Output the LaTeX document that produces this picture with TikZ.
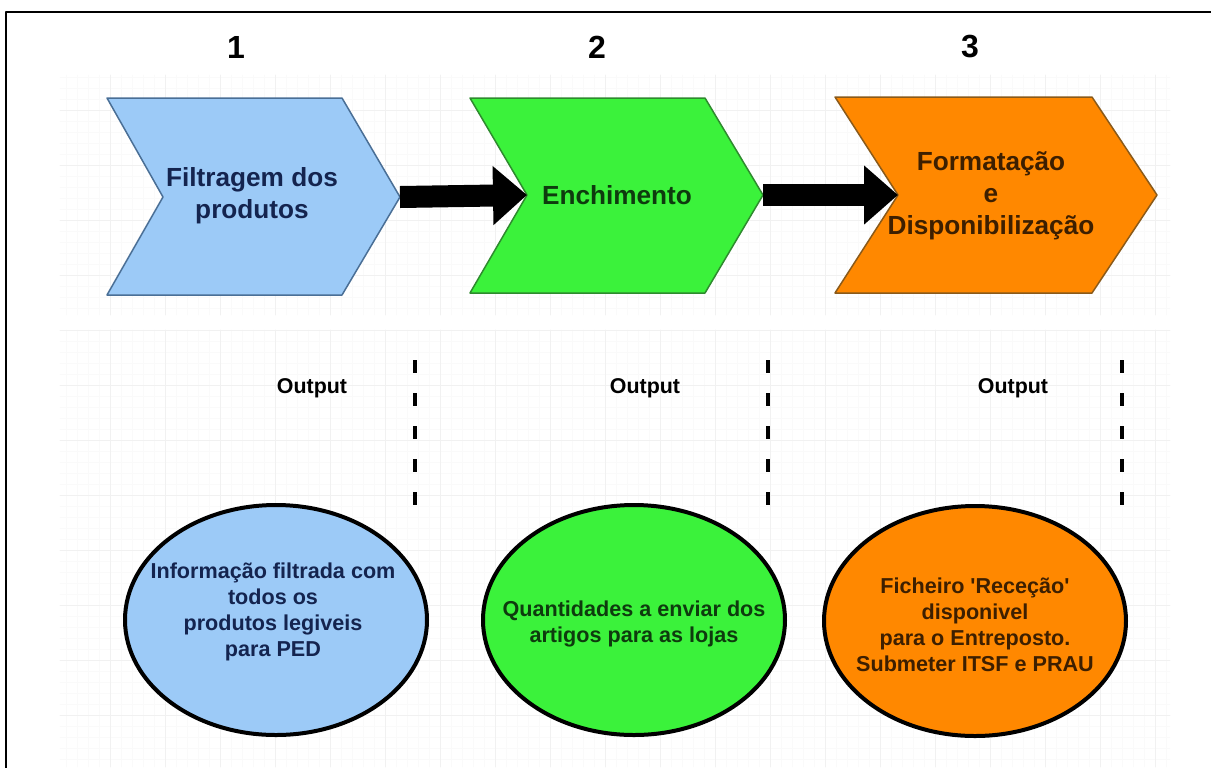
\documentclass[tikz,border=0pt]{standalone}
\usepackage{fontspec}
\setmainfont{Liberation Sans}
\usetikzlibrary{shapes.geometric,arrows.meta}
\definecolor{blueA}{HTML}{9CCAF7}
\definecolor{greenB}{HTML}{3BF23B}
\definecolor{orangeC}{HTML}{FF8800}
\definecolor{blueLine}{HTML}{4A6F96}
\definecolor{greenLine}{HTML}{2E8B2E}
\definecolor{orangeLine}{HTML}{8A5A1A}
\definecolor{blueInk}{HTML}{14244F}
\definecolor{greenInk}{HTML}{0E3B0E}
\definecolor{orangeInk}{HTML}{3D1F00}
\begin{document}
\begin{tikzpicture}[x=0.5pt, y=-0.5pt, line cap=round, line join=round, font=\bfseries]
	\tikzset{numlabel/.style={font=\fontsize{16}{18}\selectfont\bfseries},
		chevtext/.style={align=center, inner sep=0pt, font=\fontsize{13.1}{16}\selectfont\bfseries},
		chevron/.style={line width=0.75pt},
		outlabel/.style={inner sep=0pt, font=\fontsize{10.7}{13}\selectfont\bfseries},
		outblob/.style={ellipse, draw=black, line width=2pt, minimum width=151pt, minimum height=115pt, inner sep=0pt},
		outtext/.style={align=center, inner sep=0pt, font=\fontsize{10.8}{13}\selectfont\bfseries},
		bigarrow/.style={line width=11pt, line cap=butt, -{Triangle[length=17pt, width=28.5pt]}},
		divider/.style={line width=2pt, line cap=butt, dash pattern=on 6.5pt off 10pt}}
	\useasboundingbox (0,0) rectangle (1211,767);
	% faint grid behind the two rows
	\draw[gray!4, line width=0.3pt, step=5.5pt] (60,315) grid (1170,75) (60,767) grid (1170,330);
	\draw[gray!11, line width=0.4pt, step=27.5pt] (60,315) grid (1170,75) (60,767) grid (1170,330);
	\draw[line width=1pt] (6,780) |- (1220,12);
	% steps
	\node[numlabel] (numA) at (236,47) {1};
	\node[numlabel] (numB) at (597,47) {2};
	\node[numlabel] (numC) at (970,47) {3};
	\draw[chevron, fill=blueA, draw=blueLine] (107,98)--(342,98)--(400,197) coordinate (tipA)--(342,295)--(107,295)--(163,197) coordinate (notchA)--cycle;
	\draw[chevron, fill=greenB, draw=greenLine] (470,98)--(705,98)--(763,195) coordinate (tipB)--(705,293)--(470,293)--(527,195) coordinate (notchB)--cycle;
	\draw[chevron, fill=orangeC, draw=orangeLine] (835,97)--(1092,97)--(1157,195) coordinate (tipC)--(1092,293)--(835,293)--(898,195) coordinate (notchC)--cycle;
	\node[chevtext, text=blueInk] (stepA) at (252,196) {Filtragem dos\\produtos};
	\node[chevtext, text=greenInk] (stepB) at (617,195) {Enchimento};
	\node[chevtext, text=orangeInk] (stepC) at (991,196) {Formatação\\e\\Disponibilização};
	\draw[bigarrow] (tipA)--(notchB);
	\draw[bigarrow] (tipB)--(notchC);
	% outputs
	\node[outlabel] (outlabelA) at (312,388) {Output};
	\node[outlabel] (outlabelB) at (645,388) {Output};
	\node[outlabel] (outlabelC) at (1013,388) {Output};
	\draw[divider] (415,360)--(415,506) (768,360)--(768,506) (1122,360)--(1122,506);
	\node[outblob, fill=blueA] (outA) at (276,620) {};
	\node[outblob, fill=greenB] (outB) at (634,620) {};
	\node[outblob, fill=orangeC] (outC) at (975,621) {};
	\node[outtext, text=blueInk] (outtextA) at (273,612) {Informação filtrada com\\todos os\\produtos legiveis\\para PED};
	\node[outtext, text=greenInk] (outtextB) at (634,624) {Quantidades a enviar dos\\artigos para as lojas};
	\node[outtext, text=orangeInk] (outtextC) at (975,625) {Ficheiro \textquotesingle Receção\textquotesingle\\disponivel\\para o Entreposto.\\Submeter ITSF e PRAU};
\end{tikzpicture}
\end{document}
